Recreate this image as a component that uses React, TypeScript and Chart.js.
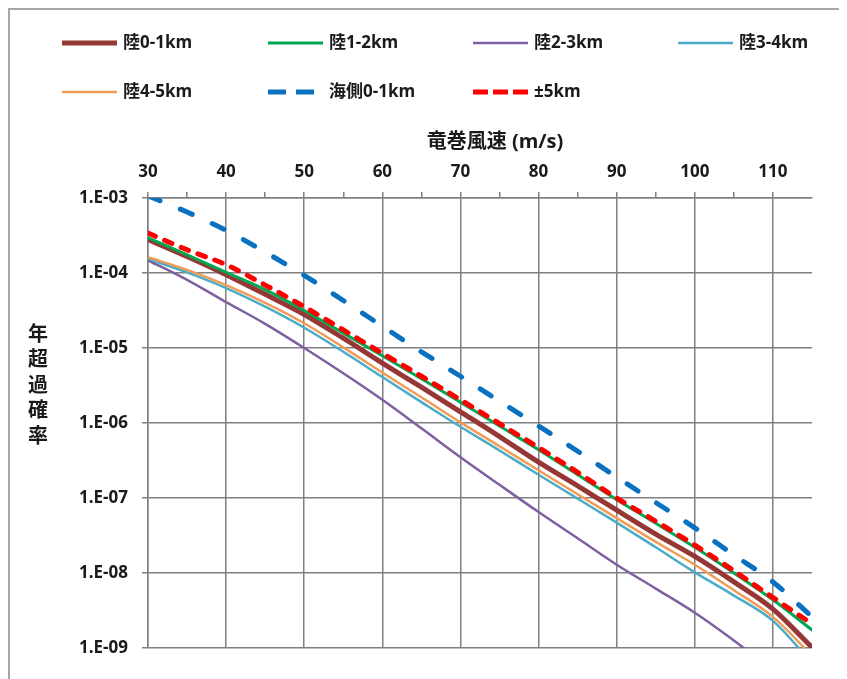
import React, { useEffect, useRef } from 'react';
import { Chart, registerables } from 'chart.js';

Chart.register(...registerables);

// ---- data ----
const speeds = [30, 35, 40, 45, 50, 55, 60, 65, 70, 75, 80, 85, 90, 95, 100, 105, 110, 115];

const land01 = [2.8e-4, 1.66e-4, 9.5e-5, 5.2e-5, 2.8e-5, 1.35e-5, 6.3e-6, 3.0e-6, 1.41e-6, 6.6e-7, 3.0e-7, 1.45e-7, 6.9e-8, 3.3e-8, 1.66e-8, 7.6e-9, 3.3e-9, 1.02e-9];
const land12 = [2.95e-4, 1.74e-4, 1.02e-4, 6.0e-5, 3.16e-5, 1.58e-5, 7.9e-6, 3.9e-6, 1.9e-6, 9.1e-7, 4.4e-7, 2.04e-7, 9.5e-8, 4.6e-8, 2.2e-8, 1.0e-8, 4.4e-9, 1.74e-9];
const land23 = [1.48e-4, 8.1e-5, 4.1e-5, 2.1e-5, 1.0e-5, 4.6e-6, 2.04e-6, 8.5e-7, 3.5e-7, 1.5e-7, 6.5e-8, 2.9e-8, 1.29e-8, 6.2e-9, 2.95e-9, 1.26e-9, 5.0e-10, 2.0e-10];
const land34 = [1.55e-4, 1.02e-4, 6.3e-5, 3.55e-5, 1.86e-5, 8.9e-6, 4.1e-6, 1.9e-6, 8.9e-7, 4.3e-7, 2.04e-7, 9.8e-8, 4.7e-8, 2.2e-8, 1.02e-8, 5.0e-9, 2.3e-9, 6.3e-10];
const land45 = [1.62e-4, 1.1e-4, 6.9e-5, 4.0e-5, 2.14e-5, 1.02e-5, 4.7e-6, 2.2e-6, 1.02e-6, 4.9e-7, 2.34e-7, 1.12e-7, 5.4e-8, 2.6e-8, 1.29e-8, 5.9e-9, 2.6e-9, 7.9e-10];
const sea01 = [1.07e-3, 6.5e-4, 3.7e-4, 1.9e-4, 9.3e-5, 4.3e-5, 1.95e-5, 8.9e-6, 4.2e-6, 1.95e-6, 9.1e-7, 4.2e-7, 1.9e-7, 8.7e-8, 4.0e-8, 1.74e-8, 7.6e-9, 2.6e-9];
const pm5 = [3.4e-4, 2.04e-4, 1.29e-4, 6.9e-5, 3.55e-5, 1.74e-5, 8.5e-6, 4.2e-6, 2.04e-6, 9.8e-7, 4.7e-7, 2.2e-7, 1.0e-7, 4.9e-8, 2.35e-8, 1.07e-8, 4.7e-9, 2.1e-9];

const seriesLabels = ['陸0-1km', '陸1-2km', '陸2-3km', '陸3-4km', '陸4-5km', '海側0-1km', '±5km'];

const yTickValues = [1e-3, 1e-4, 1e-5, 1e-6, 1e-7, 1e-8, 1e-9];
const yTickLabels = ['1.E-03', '1.E-04', '1.E-05', '1.E-06', '1.E-07', '1.E-08', '1.E-09'];

const xTitle = '竜巻風速 (m/s)';
const yTitle = '年超過確率';

// ---- styles ----
const FONT = "'Open Sans', 'Noto Sans CJK JP', sans-serif";
const TEXT = '#1a1a1a';
const GRID = '#808080';

const styles = [
  { color: '#953735', width: 5, dash: [] as number[], cap: 'round', order: 3, legendDash: [] as number[] },
  { color: '#00a650', width: 3, dash: [], cap: 'round', order: 2, legendDash: [] },
  { color: '#7e60a0', width: 2.5, dash: [], cap: 'round', order: 6, legendDash: [] },
  { color: '#4aacc6', width: 2.5, dash: [], cap: 'round', order: 5, legendDash: [] },
  { color: '#f29b55', width: 2.5, dash: [], cap: 'round', order: 4, legendDash: [] },
  { color: '#0a70c0', width: 5, dash: [13, 22], cap: 'round', order: 1, legendDash: [18, 10] },
  { color: '#ff0000', width: 5, dash: [8, 10], cap: 'round', order: 0, legendDash: [15, 5] },
];

const seriesValues = [land01, land12, land23, land34, land45, sea01, pm5];

const decorPlugin = {
  id: 'decor',
  afterDraw(chart: any) {
    const ctx = chart.ctx as CanvasRenderingContext2D;
    ctx.save();
    const cols = [52, 258, 463, 668];
    const rows = [33, 82];
    chart.data.datasets.forEach((ds: any, i: number) => {
      const x = cols[i % 4];
      const y = rows[Math.floor(i / 4)];
      ctx.strokeStyle = ds.borderColor;
      ctx.lineWidth = ds.borderWidth;
      ctx.lineCap = 'butt';
      ctx.setLineDash(styles[i].legendDash);
      ctx.beginPath();
      ctx.moveTo(x, y);
      ctx.lineTo(x + 55, y);
      ctx.stroke();
      ctx.setLineDash([]);
      ctx.fillStyle = TEXT;
      ctx.font = `bold 17px ${FONT}`;
      ctx.textAlign = 'left';
      ctx.textBaseline = 'middle';
      ctx.fillText(ds.label, x + 61, y);
    });
    // x title
    ctx.font = `bold 20px ${FONT}`;
    ctx.textAlign = 'center';
    ctx.textBaseline = 'middle';
    ctx.fillStyle = TEXT;
    ctx.fillText(xTitle, 485, 132);
    // y title, stacked vertically
    Array.from(yTitle).forEach((ch, i) => {
      ctx.fillText(ch, 28, 325 + i * 25.5);
    });
    ctx.restore();
  },
};

export default function App() {
  const ref = useRef<HTMLCanvasElement | null>(null);

  useEffect(() => {
    document.documentElement.style.overflow = 'hidden';
    const canvas = ref.current;
    if (!canvas) return;
    const chart = new Chart(canvas, {
      type: 'line',
      data: {
        datasets: seriesValues.map((vals, i) => ({
          label: seriesLabels[i],
          data: speeds.map((s, j) => ({ x: s, y: vals[j] })),
          borderColor: styles[i].color,
          backgroundColor: styles[i].color,
          borderWidth: styles[i].width,
          borderDash: styles[i].dash,
          borderCapStyle: styles[i].cap as any,
          borderJoinStyle: 'round' as any,
          pointRadius: 0,
          cubicInterpolationMode: 'monotone' as any,
          order: styles[i].order,
          clip: 0 as any,
        })),
      },
      options: {
        animation: false,
        responsive: false,
        maintainAspectRatio: false,
        devicePixelRatio: 1,
        layout: { padding: { top: 100, left: 0, right: 35, bottom: 31 } },
        plugins: {
          legend: { display: false },
          tooltip: { enabled: false },
        },
        scales: {
          x: {
            type: 'linear',
            position: 'top',
            min: 30,
            max: 115,
            afterFit: (s: any) => {
              s.height = 88;
            },
            ticks: {
              stepSize: 5,
              autoSkip: false,
              maxRotation: 0,
              padding: 10,
              color: TEXT,
              font: { family: FONT, size: 17, weight: 'bold' },
              callback: (v: any) => (Number(v) % 10 === 0 ? String(v) : ''),
            },
            grid: {
              color: (c: any) => (c.tick && c.tick.value % 10 === 0 ? GRID : 'rgba(0,0,0,0)'),
              tickColor: (c: any) => (c.tick && c.tick.value === 115 ? 'rgba(0,0,0,0)' : GRID),
              lineWidth: 1.5,
              tickLength: 6,
            },
            border: { display: true, color: GRID, width: 1.5 },
          },
          y: {
            type: 'logarithmic',
            position: 'left',
            min: 1e-9,
            max: 1e-3,
            afterBuildTicks: (s: any) => {
              s.ticks = yTickValues.map((v) => ({ value: v }));
            },
            afterFit: (s: any) => {
              s.width = 138;
            },
            ticks: {
              autoSkip: false,
              padding: 14,
              color: TEXT,
              font: { family: FONT, size: 17, weight: 'bold' },
              callback: (v: any) => {
                const idx = yTickValues.findIndex((t) => Math.abs(Math.log10(t) - Math.log10(Number(v))) < 1e-6);
                return idx >= 0 ? yTickLabels[idx] : '';
              },
            },
            grid: { color: GRID, lineWidth: 1.5, tickLength: 6 },
            border: { display: true, color: GRID, width: 1.5 },
          },
        },
      } as any,
      plugins: [decorPlugin],
    });
    return () => chart.destroy();
  }, []);

  return (
    <div
      style={{
        width: 837,
        height: 669,
        borderLeft: '2px solid #a6a6a6',
        borderTop: '2px solid #a6a6a6',
        background: '#fff',
      }}
    >
      <canvas ref={ref} width={837} height={669} style={{ display: 'block' }} />
    </div>
  );
}
